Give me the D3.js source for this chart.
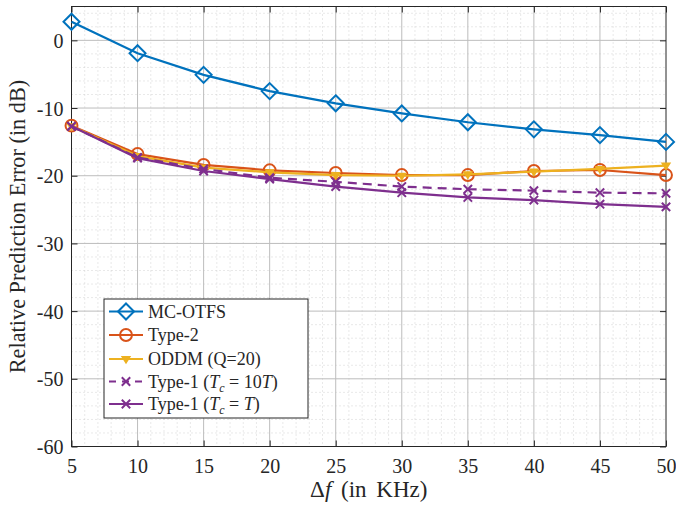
<!DOCTYPE html>
<html lang="en">
<head>
<meta charset="UTF-8">
<title>Relative prediction error</title>
<script src="https://cdn.jsdelivr.net/npm/d3@7/dist/d3.min.js"></script>
<style>
  body { margin: 0; background: #fff; }
  svg text { font-family: "Liberation Serif", "DejaVu Serif", serif; fill: #262626; }
</style>
</head>
<body>
<div id="chart"></div>
<script>
// data
const deltaF = [5, 10, 15, 20, 25, 30, 35, 40, 45, 50];
const mcOtfs = [2.75, -1.9, -5.1, -7.5, -9.3, -10.8, -12.1, -13.15, -14.0, -15.0];
const type2  = [-12.6, -16.8, -18.4, -19.2, -19.6, -19.9, -19.9, -19.3, -19.15, -19.9];
const oddm   = [-12.7, -17.1, -18.8, -19.5, -19.9, -20.0, -19.8, -19.4, -19.0, -18.5];
const type1Tc10 = [-12.7, -17.3, -19.0, -20.3, -20.9, -21.6, -22.0, -22.2, -22.5, -22.6];
const type1Tc1  = [-12.7, -17.4, -19.3, -20.5, -21.6, -22.5, -23.2, -23.6, -24.2, -24.6];
const xTicks = [5, 10, 15, 20, 25, 30, 35, 40, 45, 50];
const yTicks = [0, -10, -20, -30, -40, -50, -60];

const series = [
  { name: "MC-OTFS", values: mcOtfs, color: "#0072BD", marker: "diamond", dash: null },
  { name: "Type-2", values: type2, color: "#D95319", marker: "circle", dash: null },
  { name: "ODDM (Q=20)", values: oddm, color: "#EDB120", marker: "tri", dash: null },
  { name: "Type-1 (Tc = 10T)", values: type1Tc10, color: "#7E2F8E", marker: "x", dash: "9,6" },
  { name: "Type-1 (Tc = T)", values: type1Tc1, color: "#7E2F8E", marker: "x", dash: null }
];

const W = 676, H = 506;
const m = { left: 71.5, right: 10, top: 6.5, bottom: 59.5 };

const svg = d3.select("#chart").append("svg")
  .attr("width", W).attr("height", H);

const x = d3.scaleLinear().domain([5, 50]).range([m.left, W - m.right]);
const y = d3.scaleLinear().domain([-60, 5]).range([H - m.bottom, m.top]);

// minor grid
const g = svg.append("g");
g.selectAll(".mx").data(d3.range(6, 50, 1).filter(d => d % 5 !== 0)).join("line")
  .attr("x1", d => x(d)).attr("x2", d => x(d))
  .attr("y1", y(5)).attr("y2", y(-60))
  .attr("stroke", "#c8c8c8").attr("stroke-width", 0.8).attr("stroke-dasharray", "1,3");
g.selectAll(".my").data(d3.range(-58, 5, 2).filter(d => d % 10 !== 0)).join("line")
  .attr("y1", d => y(d)).attr("y2", d => y(d))
  .attr("x1", x(5)).attr("x2", x(50))
  .attr("stroke", "#c8c8c8").attr("stroke-width", 0.8).attr("stroke-dasharray", "1,3");

// major grid
g.selectAll(".gx").data(xTicks.slice(1, -1)).join("line")
  .attr("x1", d => x(d)).attr("x2", d => x(d))
  .attr("y1", y(5)).attr("y2", y(-60))
  .attr("stroke", "#bdbdbd").attr("stroke-width", 1);
g.selectAll(".gy").data(yTicks.slice(0, -1)).join("line")
  .attr("y1", d => y(d)).attr("y2", d => y(d))
  .attr("x1", x(5)).attr("x2", x(50))
  .attr("stroke", "#bdbdbd").attr("stroke-width", 1);

// axes with inward ticks
const xAxis = d3.axisBottom(x).tickValues(xTicks).tickSize(-6).tickPadding(12);
const yAxis = d3.axisLeft(y).tickValues(yTicks).tickSize(-6).tickPadding(8).tickFormat(d => String(d));

svg.append("g").attr("transform", `translate(0,${y(-60)})`).call(xAxis)
  .call(a => a.select(".domain").remove())
  .call(a => a.selectAll("line").attr("stroke", "#262626"))
  .call(a => a.selectAll("text").style("font-size", "20px"));
svg.append("g").attr("transform", `translate(0,${y(5)})`)
  .call(d3.axisTop(x).tickValues(xTicks).tickSize(-6).tickFormat(""))
  .call(a => a.select(".domain").remove())
  .call(a => a.selectAll("line").attr("stroke", "#262626"));
svg.append("g").attr("transform", `translate(${x(5)},0)`).call(yAxis)
  .call(a => a.select(".domain").remove())
  .call(a => a.selectAll("line").attr("stroke", "#262626"))
  .call(a => a.selectAll("text").style("font-size", "20px").attr("dy", "0.35em"));
svg.append("g").attr("transform", `translate(${x(50)},0)`)
  .call(d3.axisRight(y).tickValues(yTicks).tickSize(-6).tickFormat(""))
  .call(a => a.select(".domain").remove())
  .call(a => a.selectAll("line").attr("stroke", "#262626"));

svg.append("rect")
  .attr("x", x(5)).attr("y", y(5))
  .attr("width", x(50) - x(5)).attr("height", y(-60) - y(5))
  .attr("fill", "none").attr("stroke", "#262626").attr("stroke-width", 1);

// markers
function drawMarker(sel, type, color, s) {
  if (type === "diamond") {
    sel.append("path").attr("d", `M0,${-s}L${s},0L0,${s}L${-s},0Z`)
      .attr("fill", "none").attr("stroke", color).attr("stroke-width", 2);
  } else if (type === "circle") {
    sel.append("circle").attr("r", s * 0.85)
      .attr("fill", "none").attr("stroke", color).attr("stroke-width", 2);
  } else if (type === "tri") {
    const t = s * 0.55;
    sel.append("path").attr("d", `M${-t},${-t * 0.6}L${t},${-t * 0.6}L0,${t}Z`)
      .attr("fill", color).attr("stroke", color).attr("stroke-width", 1.5);
  } else if (type === "x") {
    const t = s * 0.6;
    sel.append("path").attr("d", `M${-t},${-t}L${t},${t}M${-t},${t}L${t},${-t}`)
      .attr("stroke", color).attr("stroke-width", 2);
  }
}

const line = d3.line().x((d, i) => x(deltaF[i])).y(d => y(d));
const plot = svg.append("g");
series.forEach(s => {
  plot.append("path").datum(s.values)
    .attr("d", line)
    .attr("fill", "none").attr("stroke", s.color).attr("stroke-width", 2.2)
    .attr("stroke-dasharray", s.dash);
  s.values.forEach((v, i) => {
    const mg = plot.append("g").attr("transform", `translate(${x(deltaF[i])},${y(v)})`);
    drawMarker(mg, s.marker, s.color, s.marker === "diamond" ? 8 : 7);
  });
});

// legend
const lg = svg.append("g").attr("transform", "translate(104,299)");
lg.append("rect").attr("width", 204).attr("height", 119)
  .attr("fill", "#fff").attr("stroke", "#262626").attr("stroke-width", 1);
const rowY = [12.5, 36, 60, 82.5, 105];
series.forEach((s, i) => {
  const r = lg.append("g").attr("transform", `translate(0,${rowY[i]})`);
  r.append("line").attr("x1", 5).attr("x2", 39).attr("y1", 0).attr("y2", 0)
    .attr("stroke", s.color).attr("stroke-width", 2.2)
    .attr("stroke-dasharray", s.dash ? "7,6" : null);
  const mg = r.append("g").attr("transform", "translate(22,0)");
  drawMarker(mg, s.marker, s.color, s.marker === "diamond" ? 8 : 7);
  const t = r.append("text").attr("x", 44).attr("dy", "0.35em").style("font-size", "18px");
  if (i < 3) {
    t.text(s.name);
  } else {
    t.append("tspan").text("Type-1 (");
    t.append("tspan").attr("font-style", "italic").text("T");
    t.append("tspan").attr("font-style", "italic").attr("font-size", "12px").attr("dy", 4).text("c");
    t.append("tspan").attr("dy", -4).text(i === 3 ? " = 10" : " = ");
    t.append("tspan").attr("font-style", "italic").text("T");
    t.append("tspan").text(")");
  }
});

// axis labels
const xl = svg.append("text").attr("x", (x(5) + x(50)) / 2).attr("y", 497)
  .attr("text-anchor", "middle").style("font-size", "23px").style("word-spacing", "4px");
xl.append("tspan").text("Δ");
xl.append("tspan").attr("font-style", "italic").text("f");
xl.append("tspan").text(" (in KHz)");

svg.append("text")
  .attr("transform", `translate(25,${(y(5) + y(-60)) / 2}) rotate(-90)`)
  .attr("text-anchor", "middle").style("font-size", "22.3px")
  .text("Relative Prediction Error (in dB)");
</script>
</body>
</html>
